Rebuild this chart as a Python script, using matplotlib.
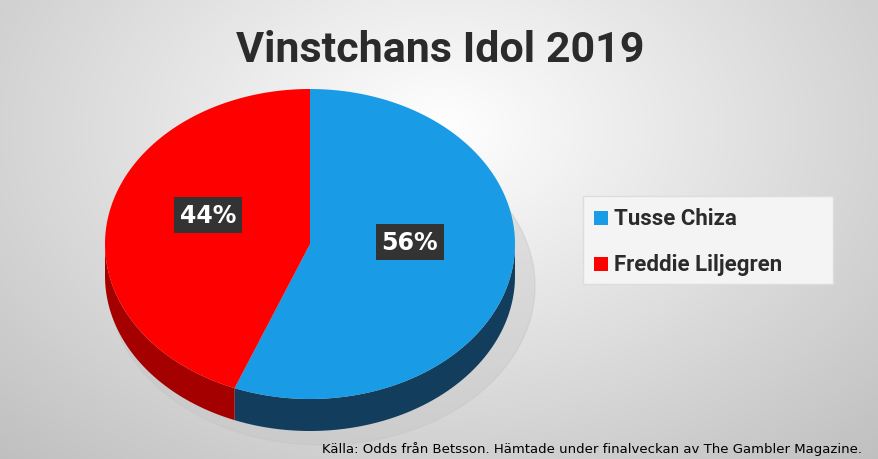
import numpy as np
import matplotlib
matplotlib.use("Agg")
import matplotlib.pyplot as plt
from matplotlib.patches import Ellipse

categories = ["Tusse Chiza", "Freddie Liljegren"]
values = [56, 44]
labels = ["56%", "44%"]
colors = ["#1a9be6", "#fe0000"]
side_colors = ["#123d5c", "#a50000"]
title = "Vinstchans Idol 2019"
source = "Källa: Odds från Betsson. Hämtade under finalveckan av The Gambler Magazine."

W, H = 879, 460
fig = plt.figure(figsize=(W/100, H/100), dpi=100)
ax = fig.add_axes([0, 0, 1, 1])
ax.set_xlim(0, W); ax.set_ylim(H, 0); ax.axis("off")

yy, xx = np.mgrid[0:H, 0:W]
r = np.sqrt(((xx-440)/650)**2 + ((yy-130)/450)**2)
bg = np.clip(1.0 - 0.25*r, 0.7, 1.0)
ax.imshow(np.dstack([bg, bg, bg]), extent=[0, W, H, 0], zorder=0)

cx, cy, rx, ry, d = 310, 245, 205, 155, 32
ax.add_patch(Ellipse((cx+12, cy+d+10), 2*rx+16, 2*ry+8, color="#c4c4c4", alpha=0.4, zorder=1))

def pt(t, dy=0):
    return cx + rx*np.cos(np.radians(t)), cy - ry*np.sin(np.radians(t)) + dy

start = 90.0
angles = []
for v in values:
    end = start - v/sum(values)*360
    angles.append((end, start))
    start = end

for (a1, a2), sc in zip(angles, side_colors):
    for lo, hi in [(-180, 0), (180, 360), (-540, -360)]:
        s, e = max(a1, lo), min(a2, hi)
        if e > s:
            t = np.linspace(s, e, 100)
            x, y = pt(t)
            xs = np.concatenate([x, x[::-1]])
            ys = np.concatenate([y, (y + d)[::-1]])
            ax.fill(xs, ys, color=sc, zorder=2, lw=0)
for (a1, a2), c in zip(angles, colors):
    t = np.linspace(a1, a2, 200)
    x, y = pt(t)
    ax.fill(np.r_[cx, x], np.r_[cy, y], color=c, zorder=3, lw=0)

lab_pos = [(410, 243), (208, 216)]
for (x, y), l in zip(lab_pos, labels):
    ax.text(x, y, l, color="white", fontsize=17, fontweight="bold", ha="center", va="center",
            zorder=5, bbox=dict(boxstyle="square,pad=0.25", fc="#333333", ec="none"))

ax.text(440, 50, title, fontsize=31, fontweight="bold", color="#2b2b2b", ha="center", va="center",
        fontfamily="Roboto", zorder=5)

ax.add_patch(plt.Rectangle((583, 197), 250, 88, fc="#f4f4f4", ec="#dddddd", zorder=4))
for i, (c, n) in enumerate(zip(colors, categories)):
    y = 219 + i*46
    ax.add_patch(plt.Rectangle((594, y-7), 14, 14, fc=c, zorder=5))
    ax.text(614, y, n, fontsize=16, fontweight="bold", color="#2b2b2b", va="center",
            fontfamily="Roboto", zorder=5)

ax.text(862, 449, source, fontsize=9.5, ha="right", va="center", color="black", zorder=5)
fig.savefig("out.png", dpi=100)
